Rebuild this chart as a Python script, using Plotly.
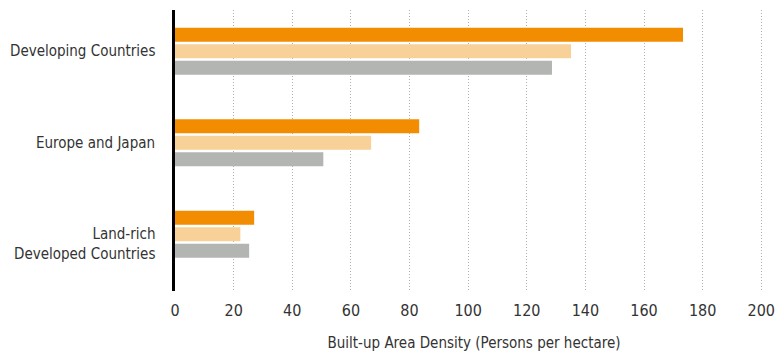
import plotly.graph_objects as go

# Built-up area density by region group, three observation periods
categories = ["Developing Countries", "Europe and Japan", "Land-rich Developed Countries"]
category_labels = ["Developing Countries", "Europe and Japan", "Land-rich<br>Developed Countries"]
series_a = [173.3, 83.3, 27.0]
series_b = [135.1, 66.9, 22.3]
series_c = [128.6, 50.6, 25.3]
x_ticks = [0, 20, 40, 60, 80, 100, 120, 140, 160, 180, 200]

colors = ["#F28C00", "#F8D198", "#B3B5B2"]
FONT = "DejaVu Sans Condensed, Liberation Sans Narrow, Arial Narrow, sans-serif"

fig = go.Figure()
for vals, col in zip([series_a, series_b, series_c], colors):
    fig.add_trace(go.Bar(
        x=vals, y=categories, orientation="h",
        marker=dict(color=col, line=dict(width=0)),
        showlegend=False,
    ))

fig.update_layout(
    width=783, height=353,
    margin=dict(l=175, r=10, t=10, b=62, autoexpand=False),
    paper_bgcolor="white", plot_bgcolor="white",
    barmode="group", bargap=0.46, bargroupgap=0.15,
    font=dict(family=FONT, color="#333333", size=15),
    xaxis=dict(
        range=[0, 204], tickvals=x_ticks, ticks="",
        automargin=False,
        showgrid=True, gridcolor="#B0B0B0", gridwidth=1, griddash="1px,2px",
        zeroline=False, showline=False,
        tickfont=dict(size=16, color="#333333"),
        ticklabelstandoff=8,
        title=dict(text="Built-up Area Density (Persons per hectare)",
                   font=dict(size=15, color="#333333"), standoff=18),
    ),
    yaxis=dict(
        type="category", categoryarray=categories,
        range=[2.62, -0.45], automargin=False,
        showticklabels=False, ticks="",
        showgrid=False, zeroline=False,
        showline=True, linecolor="black", linewidth=3,
    ),
)

# Category labels at the left of the axis line
for cat, lab in zip(categories, category_labels):
    fig.add_annotation(
        x=0, xref="paper", y=cat, yref="y",
        text=lab, showarrow=False, xanchor="right", align="right",
        xshift=-18, yshift=-10 if "<br>" in lab else 0,
        font=dict(size=15, color="#333333", family=FONT),
    )

fig.write_html("out.html")
